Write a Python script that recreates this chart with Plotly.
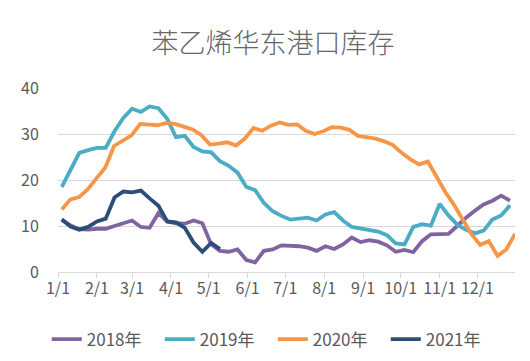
import pandas as pd
import plotly.graph_objects as go

# ---- data (weekly inventory, 10k tons) ----
series_names = ["2018年", "2019年", "2020年", "2021年"]
series_colors = ["#8064A2", "#4BACC6", "#F79646", "#2C4D75"]

v2018 = [11.4, 10.1, 9.3, 9.2, 9.4, 9.4, 10.0, 10.6, 11.2, 9.8, 9.6, 12.8, 11.0,
         10.6, 10.5, 11.2, 10.6, 6.0, 4.6, 4.4, 4.9, 2.6, 2.1, 4.6, 4.9, 5.8,
         5.8, 5.6, 5.3, 4.6, 5.6, 5.0, 6.0, 7.5, 6.5, 6.9, 6.6, 5.8, 4.4, 4.8,
         4.3, 6.7, 8.2, 8.3, 8.3, 10.0, 11.8, 13.3, 14.7, 15.5, 16.6, 15.5]
v2019 = [18.5, 22.4, 25.9, 26.5, 27.0, 27.0, 30.6, 33.5, 35.5, 34.8, 36.0, 35.6, 33.3,
         29.3, 29.6, 27.2, 26.2, 26.0, 24.1, 23.1, 21.6, 18.5, 17.8, 15.0, 13.2, 12.2,
         11.4, 11.6, 11.8, 11.2, 12.5, 13.0, 11.2, 9.8, 9.4, 9.2, 8.8, 8.0, 6.2, 6.0,
         9.8, 10.4, 10.1, 14.8, 12.3, 10.3, 9.2, 8.4, 9.0, 11.4, 12.3, 14.5]
v2020 = [13.6, 15.8, 16.3, 18.0, 20.4, 22.7, 27.4, 28.6, 29.7, 32.2, 32.1, 31.9, 32.4,
         32.2, 31.6, 31.0, 29.8, 27.7, 27.9, 28.2, 27.5, 29.0, 31.3, 30.7, 31.8, 32.5,
         32.0, 32.1, 30.7, 30.0, 30.6, 31.5, 31.4, 30.9, 29.6, 29.3, 29.0, 28.4, 27.6,
         25.9, 24.5, 23.4, 24.0, 20.7, 17.4, 14.6, 11.4, 8.2, 5.9, 6.7, 3.5, 4.9, 8.3]
v2021 = [11.4, 9.9, 9.2, 9.8, 11.0, 11.6, 16.2, 17.5, 17.3, 17.7, 16.0, 14.4, 11.0,
         10.8, 9.6, 6.4, 4.4, 6.3, 5.0]
series_values = [v2018, v2019, v2020, v2021]

# common seasonal axis (one display year), weekly observation dates
display_year = 2021
first_week = f"{display_year}-01-04"
tick_labels = ["1/1", "2/1", "3/1", "4/1", "5/1", "6/1", "7/1", "8/1", "9/1",
               "10/1", "11/1", "12/1"]
tick_dates = [f"{display_year}-{m:02d}-01" for m in range(1, 13)]
y_ticks = [0, 10, 20, 30, 40]


def week_dates(vals, name):
    if name == "2020年":  # 53 weekly readings spread over the full year
        return pd.date_range(first_week, f"{display_year}-12-31", periods=len(vals))
    return pd.date_range(first_week, periods=len(vals), freq="7D")


fig = go.Figure()
for name, color, vals in zip(series_names, series_colors, series_values):
    fig.add_trace(go.Scatter(
        x=week_dates(vals, name), y=vals, name=name, mode="lines",
        line=dict(color=color, width=3.8, shape="linear"),
    ))

font_family = "Noto Sans CJK SC, Noto Sans, sans-serif"
grey = "#595959"

fig.update_layout(
    width=530, height=361,
    margin=dict(l=50, r=23, t=80, b=97),
    paper_bgcolor="white", plot_bgcolor="white",
    font=dict(family=font_family, color=grey, size=16),
    title=dict(text="苯乙烯华东港口库存", x=0.5, xanchor="center",
               y=1 - 36 / 361, yanchor="middle",
               font=dict(size=27, color="#666666", family=font_family, weight=300)),
    showlegend=True,
    legend=dict(orientation="h", x=0.47, xanchor="center", y=-0.367,
                yanchor="middle", font=dict(size=17, color=grey),
                entrywidth=68, entrywidthmode="pixels", tracegroupgap=0),
    xaxis=dict(
        type="date", automargin=False,
        range=[f"{display_year}-01-01", f"{display_year}-12-31"],
        tickvals=tick_dates, ticktext=tick_labels, tickangle=0,
        showgrid=False, showline=True, linecolor="#d9d9d9", linewidth=1,
        ticks="outside", ticklen=5, tickcolor="#d9d9d9",
        tickfont=dict(size=16, color=grey), zeroline=False,
        ticklabelstandoff=-3,
    ),
    yaxis=dict(
        automargin=False,
        range=[0, 40], tickvals=y_ticks, showgrid=True, gridcolor="#d9d9d9",
        gridwidth=1, zeroline=False, showline=False,
        tickfont=dict(size=16, color=grey),
        ticks="outside", ticklen=15, tickcolor="rgba(0,0,0,0)",
    ),
)

fig.write_html("out.html")
